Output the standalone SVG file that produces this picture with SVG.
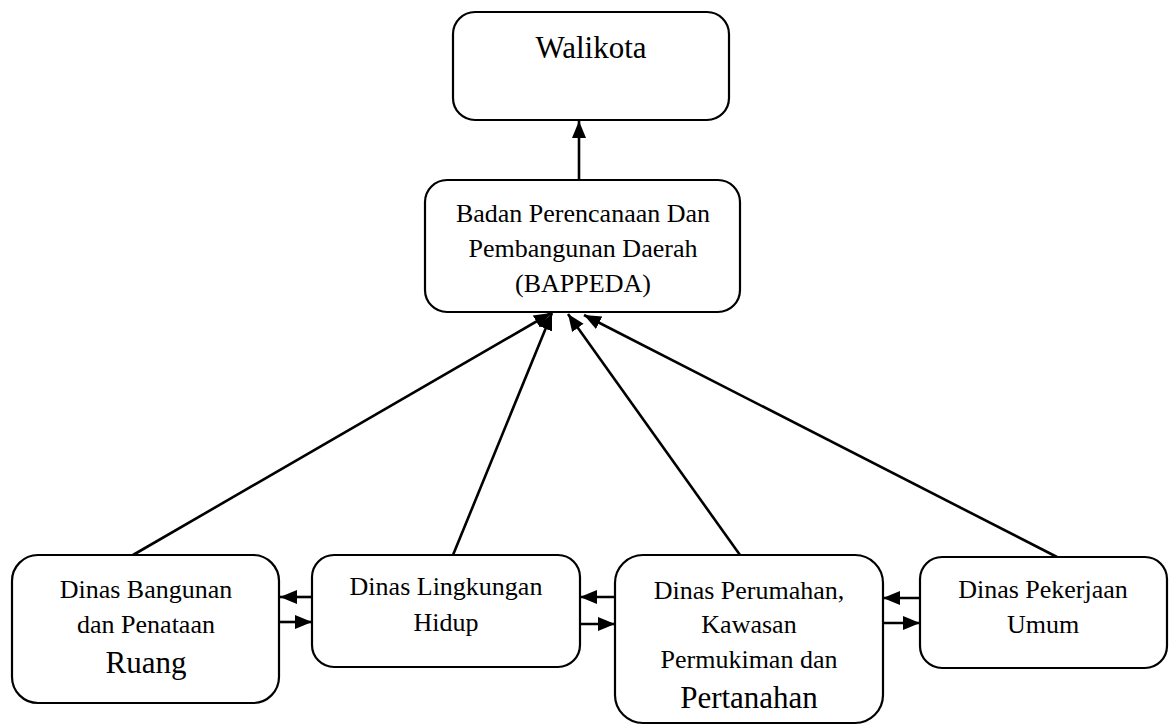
<svg xmlns="http://www.w3.org/2000/svg" width="1172" height="726" viewBox="0 0 1172 726">
<style>
.box{fill:#fff;stroke:#000;stroke-width:2.2}
.t{font-family:"Liberation Serif","Times New Roman",serif;font-size:26px;fill:#000;text-anchor:middle}
.big{font-size:31px}
.c{stroke:#000;stroke-width:2.6;fill:none;marker-end:url(#ah)}
</style>
<defs>
<marker id="ah" markerUnits="userSpaceOnUse" markerWidth="18" markerHeight="16" refX="17" refY="8" orient="auto">
<path d="M0,1 L17,8 L0,15 Z" fill="#000"/>
</marker>
</defs>
<g id="connectors">
<line class="c" x1="579" y1="180" x2="579" y2="121"/>
<line class="c" x1="133" y1="555" x2="551" y2="313"/>
<line class="c" x1="453" y1="555" x2="552" y2="313"/>
<line class="c" x1="740" y1="555" x2="568" y2="314"/>
<line class="c" x1="1057" y1="557" x2="584" y2="315"/>
<line class="c" x1="312" y1="597" x2="280" y2="597"/>
<line class="c" x1="280" y1="622" x2="312" y2="622"/>
<line class="c" x1="615" y1="597" x2="580" y2="597"/>
<line class="c" x1="580" y1="624" x2="615" y2="624"/>
<line class="c" x1="920" y1="598" x2="883" y2="598"/>
<line class="c" x1="883" y1="623" x2="920" y2="623"/>
</g>
<g id="walikota">
<rect class="box" x="453" y="12" width="276" height="108" rx="22"/>
<text class="t big" x="591" y="58">Walikota</text>
</g>
<g id="bappeda">
<rect class="box" x="425" y="180" width="315" height="132" rx="22"/>
<text class="t" x="583" y="222">Badan Perencanaan Dan</text>
<text class="t" x="583" y="257">Pembangunan Daerah</text>
<text class="t" x="583" y="292">(BAPPEDA)</text>
</g>
<g id="dinas-bangunan">
<rect class="box" x="12" y="555" width="267" height="148" rx="26"/>
<text class="t" x="146" y="598">Dinas Bangunan</text>
<text class="t" x="146" y="633">dan Penataan</text>
<text class="t big" x="146" y="673">Ruang</text>
</g>
<g id="dinas-lingkungan">
<rect class="box" x="312" y="555" width="268" height="112" rx="22"/>
<text class="t" x="446" y="595">Dinas Lingkungan</text>
<text class="t" x="446" y="631">Hidup</text>
</g>
<g id="dinas-perumahan">
<rect class="box" x="615" y="555" width="268" height="168" rx="28"/>
<text class="t" x="749" y="599">Dinas Perumahan,</text>
<text class="t" x="749" y="633">Kawasan</text>
<text class="t" x="749" y="668">Permukiman dan</text>
<text class="t big" x="749" y="708">Pertanahan</text>
</g>
<g id="dinas-pu">
<rect class="box" x="920" y="557" width="247" height="111" rx="22"/>
<text class="t" x="1043" y="598">Dinas Pekerjaan</text>
<text class="t" x="1043" y="633">Umum</text>
</g>
</svg>
